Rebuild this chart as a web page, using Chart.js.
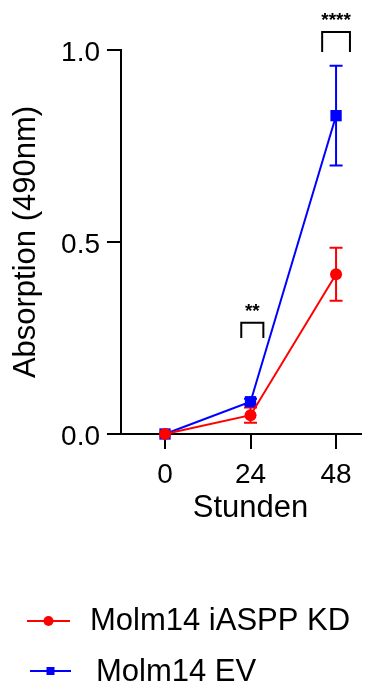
<!DOCTYPE html>
<html>
<head>
<meta charset="utf-8">
<script src="https://cdn.jsdelivr.net/npm/chart.js@4.4.0/dist/chart.umd.min.js"></script>
<style>
  html, body { margin: 0; padding: 0; background: #fff; }
  #chart { display: block; }
</style>
</head>
<body>
<canvas id="chart" width="371" height="683"></canvas>
<script>
var hours = [0, 24, 48];
var kdMean = [0.0, 0.049, 0.416];
var kdSd = [0.0, 0.02, 0.069];
var evMean = [0.0, 0.084, 0.829];
var evSd = [0.0, 0.008, 0.13];
var yTicks = [0.0, 0.5, 1.0];
var seriesNames = ['Molm14 iASPP KD', 'Molm14 EV'];
var xTitle = 'Stunden';
var yTitle = 'Absorption (490nm)';

// significance brackets (data units)
var sigLabels = ['**', '****'];
var sigFrom = [21.4, 44.1];
var sigTo = [27.6, 51.9];
var sigTop = [0.29, 1.047];
var sigLeg = [0.25, 0.995];
var sigStar = [0.333, 1.091];

var FONT = '"Liberation Sans", Arial, sans-serif';
var RED = '#ff0000';
var BLUE = '#0000ff';

function points(means) {
    return hours.map(function(h, i) { return { x: h, y: means[i] }; });
}

var errorBars = {
    id: 'errorBars',
    beforeDatasetsDraw: function(chart) {
        var ctx = chart.ctx;
        var ys = chart.scales.y;
        chart.data.datasets.forEach(function(ds, i) {
            var meta = chart.getDatasetMeta(i);
            ctx.save();
            ctx.strokeStyle = ds.borderColor;
            ctx.lineWidth = 2;
            meta.data.forEach(function(pt, j) {
                var sd = ds.sd[j];
                if (!sd) return;
                var top = ys.getPixelForValue(ds.data[j].y + sd);
                var bot = ys.getPixelForValue(ds.data[j].y - sd);
                ctx.beginPath();
                ctx.moveTo(pt.x, top);
                ctx.lineTo(pt.x, bot);
                ctx.moveTo(pt.x - 6.5, top);
                ctx.lineTo(pt.x + 6.5, top);
                ctx.moveTo(pt.x - 6.5, bot);
                ctx.lineTo(pt.x + 6.5, bot);
                ctx.stroke();
            });
            ctx.restore();
        });
    }
};

var extras = {
    id: 'extras',
    afterDraw: function(chart) {
        var ctx = chart.ctx;
        var xs = chart.scales.x;
        var ys = chart.scales.y;
        ctx.save();

        // brackets and stars
        ctx.strokeStyle = '#000';
        ctx.lineWidth = 2;
        ctx.fillStyle = '#000';
        ctx.font = 'bold 19px ' + FONT;
        ctx.textAlign = 'center';
        ctx.textBaseline = 'alphabetic';
        for (var i = 0; i < sigLabels.length; i++) {
            var x1 = xs.getPixelForValue(sigFrom[i]);
            var x2 = xs.getPixelForValue(sigTo[i]);
            var yt = ys.getPixelForValue(sigTop[i]);
            var yl = ys.getPixelForValue(sigLeg[i]);
            ctx.beginPath();
            ctx.moveTo(x1, yl);
            ctx.lineTo(x1, yt);
            ctx.lineTo(x2, yt);
            ctx.lineTo(x2, yl);
            ctx.stroke();
            ctx.fillText(sigLabels[i], (x1 + x2) / 2, ys.getPixelForValue(sigStar[i]) + 11);
        }

        // x axis title, centred on the data range
        ctx.font = '31px ' + FONT;
        ctx.fillText(xTitle, xs.getPixelForValue(24), 517);

        // legend
        var rows = [
            { y: 621, x0: 27, x1: 70, tx: 90, base: 630 },
            { y: 671, x0: 30, x1: 71, tx: 96, base: 681 }
        ];
        chart.data.datasets.forEach(function(ds, i) {
            var r = rows[i];
            ctx.strokeStyle = ds.borderColor;
            ctx.fillStyle = ds.borderColor;
            ctx.lineWidth = 2;
            ctx.beginPath();
            ctx.moveTo(r.x0, r.y);
            ctx.lineTo(r.x1, r.y);
            ctx.stroke();
            var cx = (r.x0 + r.x1) / 2;
            if (ds.pointStyle === 'rect') {
                ctx.fillRect(cx - 4, r.y - 4, 8, 8);
            } else {
                ctx.beginPath();
                ctx.arc(cx, r.y, 5, 0, Math.PI * 2);
                ctx.fill();
            }
            ctx.fillStyle = '#000';
            ctx.textAlign = 'left';
            ctx.fillText(ds.label, r.tx, r.base);
        });
        ctx.restore();
    }
};

var ctx = document.getElementById('chart').getContext('2d');

var chart = new Chart(ctx, {
    type: 'line',
    data: {
        datasets: [{
            label: seriesNames[0],
            data: points(kdMean),
            sd: kdSd,
            borderColor: RED,
            backgroundColor: RED,
            borderWidth: 2,
            pointStyle: 'circle',
            pointRadius: 6,
            pointBorderWidth: 0,
            clip: false
        }, {
            label: seriesNames[1],
            data: points(evMean),
            sd: evSd,
            borderColor: BLUE,
            backgroundColor: BLUE,
            borderWidth: 2,
            pointStyle: 'rect',
            pointRadius: 8,
            pointBorderWidth: 0,
            clip: false
        }]
    },
    options: {
        responsive: false,
        animation: false,
        devicePixelRatio: 1,
        layout: { padding: { top: 50, right: 10, left: 0, bottom: 0 } },
        plugins: {
            legend: { display: false },
            tooltip: { enabled: false }
        },
        scales: {
            x: {
                type: 'linear',
                min: -12.35,
                max: 55,
                afterFit: function(scale) { scale.height = 249; },
                afterBuildTicks: function(scale) {
                    scale.ticks = hours.map(function(v) { return { value: v }; });
                },
                grid: { drawOnChartArea: false, drawTicks: true, tickLength: 15, color: '#000', lineWidth: 2 },
                border: { color: '#000', width: 2 },
                ticks: {
                    color: '#000',
                    padding: 9,
                    maxRotation: 0,
                    font: { family: FONT, size: 28 },
                    callback: function(v) { return String(v); }
                }
            },
            y: {
                min: 0,
                max: 1,
                afterFit: function(scale) { scale.width = 121; },
                afterBuildTicks: function(scale) {
                    scale.ticks = yTicks.map(function(v) { return { value: v }; });
                },
                grid: { drawOnChartArea: false, drawTicks: true, tickLength: 14, color: '#000', lineWidth: 2 },
                border: { color: '#000', width: 2 },
                ticks: {
                    color: '#000',
                    padding: 7,
                    labelOffset: 3,
                    font: { family: FONT, size: 28 },
                    callback: function(v) { return v.toFixed(1); }
                },
                title: {
                    display: true,
                    text: yTitle,
                    color: '#000',
                    padding: { top: 8, bottom: 0 },
                    font: { family: FONT, size: 31 }
                }
            }
        }
    },
    plugins: [errorBars, extras]
});
</script>
</body>
</html>
